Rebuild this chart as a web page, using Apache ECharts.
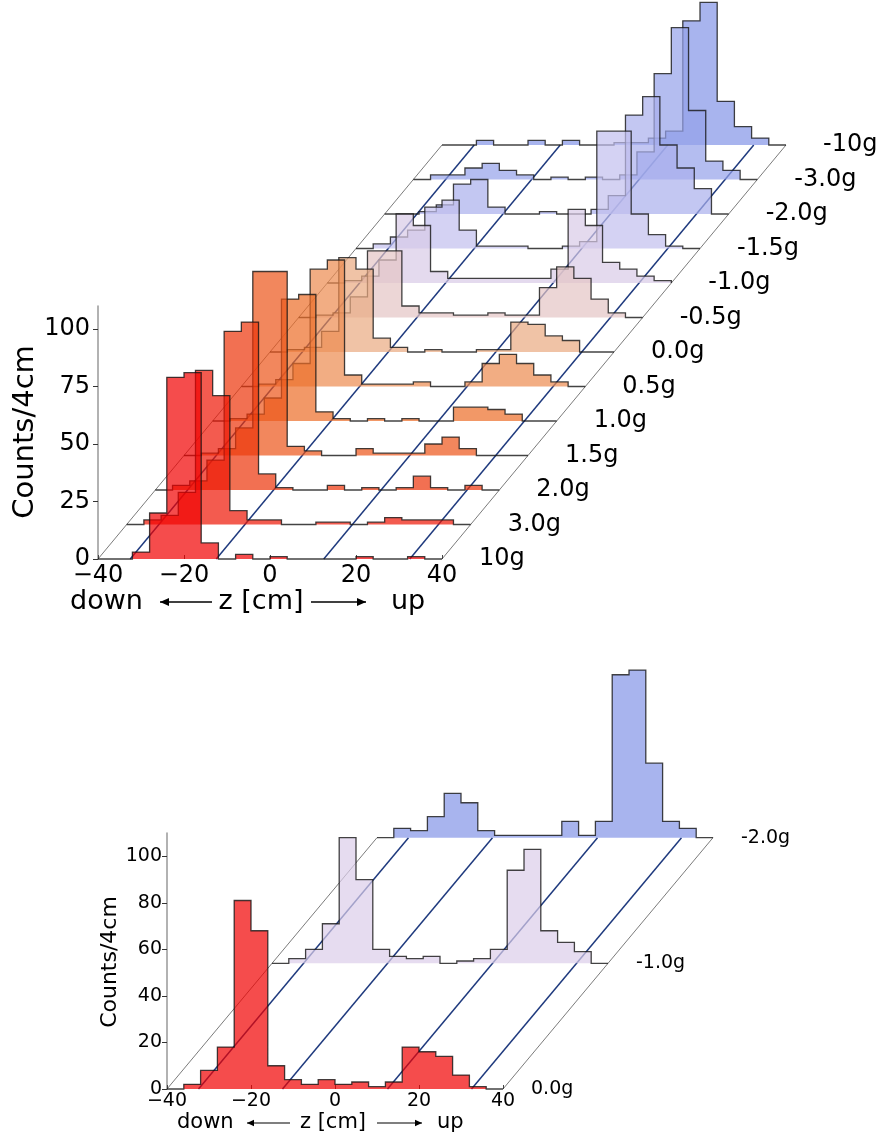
<!DOCTYPE html>
<html>
<head>
<meta charset="utf-8">
<script src="https://cdn.jsdelivr.net/npm/echarts@6/dist/echarts.min.js"></script>
<style>
  html, body { margin: 0; padding: 0; background: #fff; }
  #chart { width: 882px; height: 1142px; }
</style>
</head>
<body>
<div id="chart"></div>
<script>
// bin edges along z [cm], 4 cm bins
const zEdges = [-40, -36, -32, -28, -24, -20, -16, -12, -8, -4, 0, 4, 8, 12, 16, 20, 24, 28, 32, 36, 40];
const xTicks = [-40, -20, 0, 20, 40];
const topYTicks = [0, 25, 50, 75, 100];
const bottomYTicks = [0, 20, 40, 60, 80, 100];

// top panel, front (10g) to back (-10g)
const topLabels = ["10g", "3.0g", "2.0g", "1.5g", "1.0g", "0.5g", "0.0g", "-0.5g", "-1.0g", "-1.5g", "-2.0g", "-3.0g", "-10g"];
const h10g   = [0, 0, 3, 20, 79, 81, 7, 0, 2, 0, 1, 0, 0, 0, 0, 1, 0, 0, 1, 0];
const h3g    = [0, 2, 4, 14, 67, 56, 6, 2, 2, 0, 0, 1, 1, 0, 1, 3, 2, 2, 2, 0];
const h2g    = [0, 2, 4, 13, 69, 73, 7, 1, 0, 0, 2, 0, 1, 0, 1, 6, 1, 0, 2, 0];
const h1p5g  = [0, 1, 3, 12, 80, 80, 4, 2, 0, 0, 3, 1, 1, 1, 5, 8, 3, 0, 0, 0];
const h1g    = [0, 1, 3, 10, 53, 55, 4, 1, 0, 1, 0, 1, 0, 0, 6, 6, 5, 3, 0, 0];
const h0p5g  = [0, 1, 3, 10, 51, 55, 5, 1, 1, 1, 2, 0, 0, 2, 10, 14, 10, 5, 2, 0];
const h0g    = [0, 1, 2, 9, 41, 36, 6, 2, 0, 1, 0, 0, 1, 1, 13, 12, 7, 5, 0, 0];
const hm0p5g = [0, 1, 2, 9, 29, 29, 5, 2, 2, 1, 1, 2, 1, 1, 13, 22, 17, 8, 2, 0];
const hm1g   = [0, 1, 3, 10, 30, 25, 5, 2, 2, 2, 2, 2, 2, 6, 32, 25, 9, 6, 3, 1];
const hm1p5g = [0, 2, 5, 8, 18, 21, 8, 1, 1, 1, 0, 0, 1, 3, 51, 51, 15, 6, 1, 0];
const hm2g   = [0, 0, 1, 4, 13, 15, 3, 0, 0, 1, 0, 0, 2, 8, 43, 51, 30, 20, 11, 0];
const hm3g   = [0, 2, 2, 5, 7, 4, 2, 0, 1, 0, 1, 0, 2, 12, 46, 66, 30, 8, 4, 0];
const hm10g  = [0, 0, 2, 0, 0, 2, 0, 2, 0, 0, 1, 1, 3, 6, 54, 62, 19, 8, 3, 0];
const topCounts = [h10g, h3g, h2g, h1p5g, h1g, h0p5g, h0g, hm0p5g, hm1g, hm1p5g, hm2g, hm3g, hm10g];

// bottom panel, front (0.0g) to back (-2.0g)
const bottomLabels = ["0.0g", "-1.0g", "-2.0g"];
const b0g  = [0, 2, 8, 18, 81, 68, 10, 4, 2, 4, 2, 3, 1, 3, 18, 16, 14, 6, 1, 0];
const bm1g = [0, 2, 6, 17, 54, 36, 6, 3, 2, 3, 0, 1, 2, 6, 40, 49, 14, 9, 5, 0];
const bm2g = [0, 4, 3, 9, 19, 15, 3, 1, 1, 1, 1, 7, 1, 7, 70, 72, 32, 7, 4, 0];
const bottomCounts = [b0g, bm1g, bm2g];

// guide lines on the floor (z positions)
const floorZ = [-40, -32.5, -12.5, 12.5, 32.5, 40];

// colours as they look on white, drawn at alpha 0.7
const ALPHA = 0.7;
const topColors = ['#f5474c', '#f35c4f', '#f27053', '#f2875d', '#f29868', '#f2ad84', '#f0c3a6',
                   '#ecd6d6', '#e4daee', '#d4d2f3', '#c3c7f2', '#b4bdf0', '#a8b4ee'];
const bottomColors = ['#f5474c', '#e6dcf0', '#a8b4ee'];

function seen(hex) {
  const v = [1, 3, 5].map(i => parseInt(hex.substr(i, 2), 16));
  const b = v.map(c => Math.max(0, Math.min(255, Math.round((c - 255 * (1 - ALPHA)) / ALPHA))));
  return 'rgba(' + b.join(',') + ',' + ALPHA + ')';
}

const FONT = '"DejaVu Sans", sans-serif';

function histRender(counts, shiftZ, shiftC, labels, colors, labelGap, fontSize) {
  const fills = colors.map(seen);
  return function (params, api) {
    const k = api.value(0);
    const c = counts[k];
    const dz = k * shiftZ, dc = k * shiftC;
    const pts = [api.coord([zEdges[0] + dz, dc])];
    for (let i = 0; i < c.length; i++) {
      pts.push(api.coord([zEdges[i] + dz, c[i] + dc]));
      pts.push(api.coord([zEdges[i + 1] + dz, c[i] + dc]));
    }
    pts.push(api.coord([zEdges[zEdges.length - 1] + dz, dc]));
    const end = pts[pts.length - 1];
    return {
      type: 'group',
      children: [
        { type: 'polygon', shape: { points: pts }, style: { fill: fills[k], stroke: null } },
        { type: 'polyline', shape: { points: pts },
          style: { fill: 'none', stroke: 'rgba(20,20,20,0.8)', lineWidth: 1.3 } },
        { type: 'text', x: end[0] + labelGap, y: end[1],
          style: { text: labels[k], fill: '#000', font: fontSize + 'px ' + FONT,
                   align: 'left', verticalAlign: 'middle' } }
      ]
    };
  };
}

function floorRender(spanZ, spanC) {
  return function (params, api) {
    const z = api.value(0);
    const p0 = api.coord([z, 0]);
    const p1 = api.coord([z + spanZ, spanC]);
    const edge = Math.abs(z) === 40;
    return {
      type: 'line',
      shape: { x1: p0[0], y1: p0[1], x2: p1[0], y2: p1[1] },
      style: { stroke: edge ? 'rgba(60,60,60,0.85)' : '#1f3a7e', lineWidth: edge ? 0.8 : 1.5 }
    };
  };
}

const minus = v => String(v).replace('-', '\u2212');

function xAxisOpt(gridIndex, fontSize, margin) {
  return {
    type: 'value', gridIndex, min: -40, max: 40, interval: 20,
    axisLine: { show: false },
    axisTick: { show: true, inside: true, length: 4, lineStyle: { color: '#444' } },
    splitLine: { show: false },
    axisLabel: { formatter: minus, fontSize, color: '#000', margin, fontFamily: FONT }
  };
}
function yAxisOpt(gridIndex, ticks, fontSize, margin) {
  return {
    type: 'value', gridIndex, min: 0, max: 110,
    axisLine: { show: true, onZero: false, lineStyle: { color: '#999', width: 1.5 } },
    axisTick: { show: true, length: 5, customValues: ticks, lineStyle: { color: '#333' } },
    splitLine: { show: false },
    axisLabel: { customValues: ticks, fontSize, color: '#000', margin, fontFamily: FONT }
  };
}

// "down <-- z [cm] --> up" built from pieces so the long arrows keep their length
function axisTitle(y, size, downX, arrow1, midX, arrow2, upX, head) {
  const t = (x, text, align) => ({ type: 'text', x, y,
    style: { text, font: size + 'px ' + FONT, fill: '#000', align, verticalAlign: 'middle' } });
  const arrow = (x1, x2, left) => {
    const tip = left ? x1 : x2, back = left ? x1 + head : x2 - head;
    return [
      { type: 'line', shape: { x1, y1: y, x2, y2: y }, style: { stroke: '#000', lineWidth: size / 18 } },
      { type: 'polygon', shape: { points: [[tip, y], [back, y - head * 0.45], [back, y + head * 0.45]] },
        style: { fill: '#000' } }
    ];
  };
  return [t(downX, 'down', 'left'), ...arrow(arrow1[0], arrow1[1], true),
          t(midX, 'z [cm]', 'center'), ...arrow(arrow2[0], arrow2[1], false), t(upX, 'up', 'left')];
}

const chart = echarts.init(document.getElementById('chart'), null, { renderer: 'canvas' });
const topLayers = topCounts.map((_, i) => [topCounts.length - 1 - i]);
const bottomLayers = bottomCounts.map((_, i) => [bottomCounts.length - 1 - i]);
const topN = topCounts.length - 1;
const botN = bottomCounts.length - 1;

chart.setOption({
  animation: false,
  backgroundColor: '#fff',
  grid: [
    { left: 98, top: 306, width: 344, height: 253 },
    { left: 167, top: 833, width: 336, height: 256 }
  ],
  xAxis: [xAxisOpt(0, 24, 5), xAxisOpt(1, 19, 3)],
  yAxis: [yAxisOpt(0, topYTicks, 24, 8), yAxisOpt(1, bottomYTicks, 19, 5)],
  graphic: [
    { type: 'text', x: 25, y: 432, rotation: Math.PI / 2,
      style: { text: 'Counts/4cm', font: '29px ' + FONT, fill: '#000', align: 'center', verticalAlign: 'middle' } },
    { type: 'text', x: 110, y: 962, rotation: Math.PI / 2,
      style: { text: 'Counts/4cm', font: '22px ' + FONT, fill: '#000', align: 'center', verticalAlign: 'middle' } },
    ...axisTitle(602, 27, 70, [160, 212], 261, [311, 366], 391, 9),
    ...axisTitle(1123, 21, 177, [247, 290], 333, [377, 422], 437, 7)
  ],
  series: [
    { type: 'custom', name: 'floorTop', xAxisIndex: 0, yAxisIndex: 0, z: 1, clip: false,
      data: floorZ.map(z => [z]), encode: { x: 0 },
      renderItem: floorRender(80, 15 * topN) },
    { type: 'custom', name: 'histTop', xAxisIndex: 0, yAxisIndex: 0, z: 2, clip: false,
      data: topLayers, encode: { x: 0 },
      renderItem: histRender(topCounts, 80 / topN, 15, topLabels, topColors, 37, 24) },
    { type: 'custom', name: 'floorBottom', xAxisIndex: 1, yAxisIndex: 1, z: 1, clip: false,
      data: floorZ.map(z => [z]), encode: { x: 0 },
      renderItem: floorRender(25 * botN, 54 * botN) },
    { type: 'custom', name: 'histBottom', xAxisIndex: 1, yAxisIndex: 1, z: 2, clip: false,
      data: bottomLayers, encode: { x: 0 },
      renderItem: histRender(bottomCounts, 25, 54, bottomLabels, bottomColors, 28, 19) }
  ]
});
</script>
</body>
</html>
